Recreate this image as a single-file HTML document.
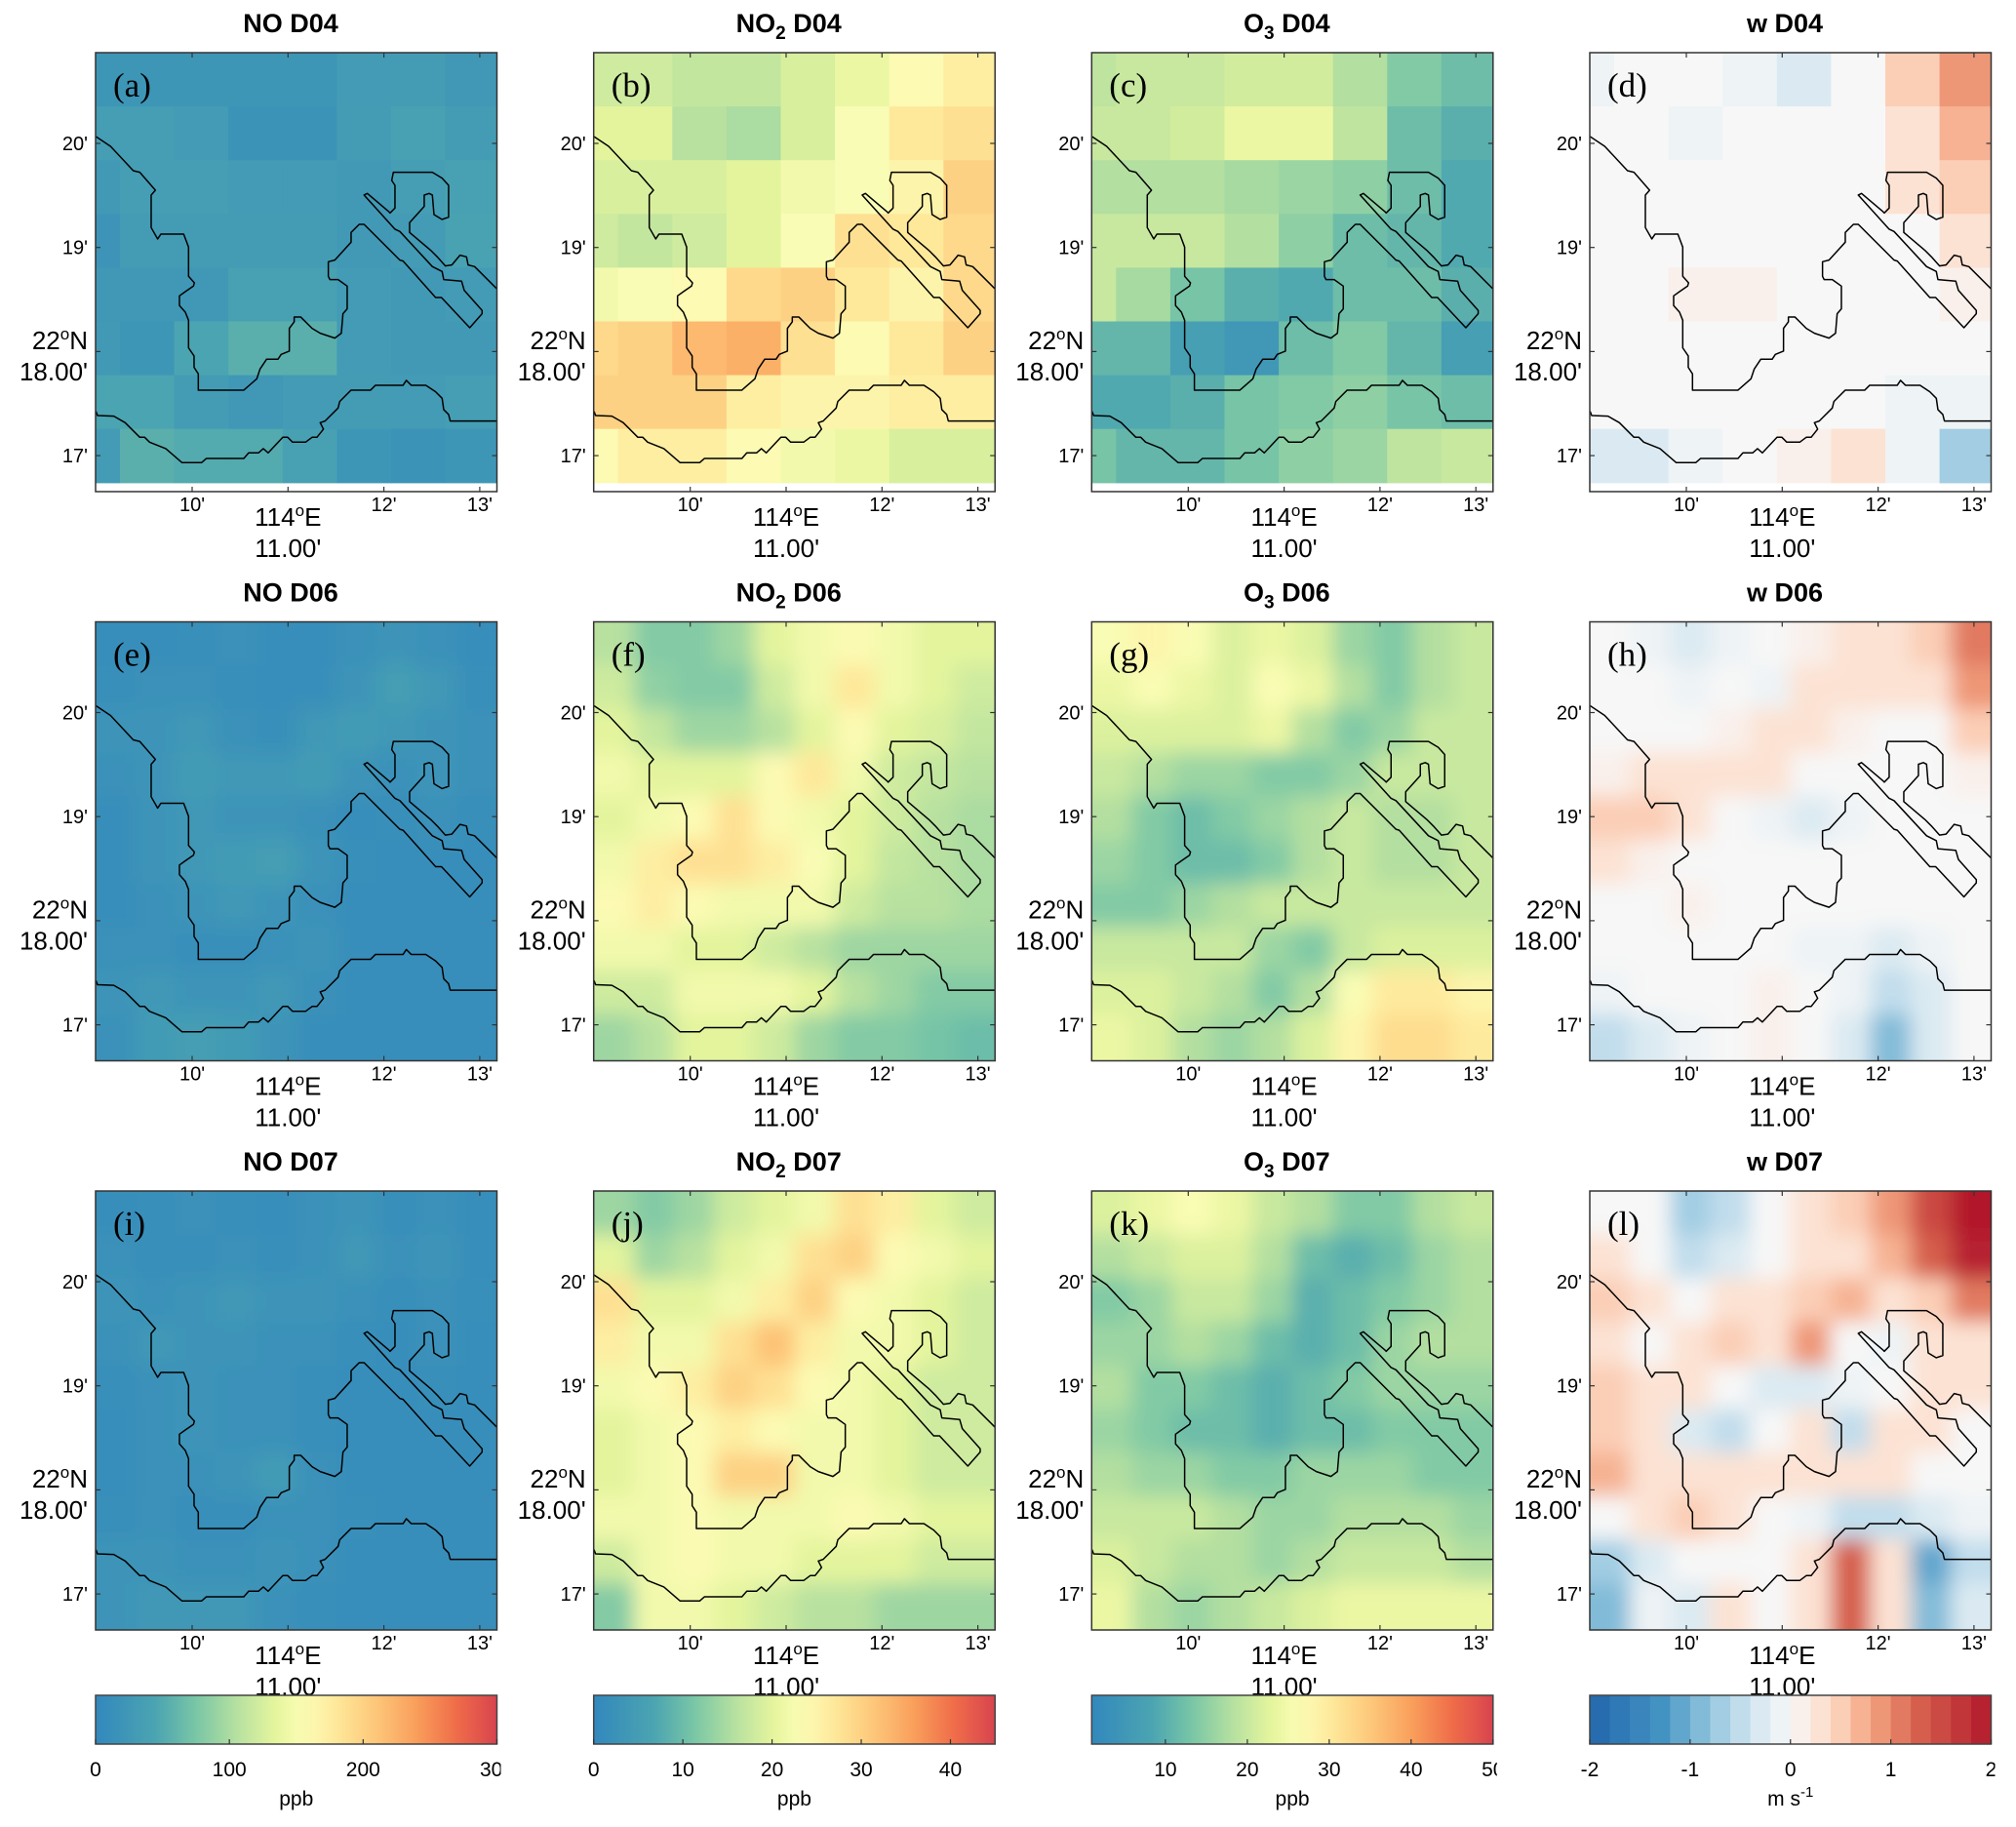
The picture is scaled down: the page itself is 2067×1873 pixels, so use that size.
<!DOCTYPE html>
<html><head><meta charset="utf-8"><style>
html,body{margin:0;padding:0;background:#fff;}
svg{display:block;font-family:"Liberation Sans",sans-serif;}
</style></head><body>
<svg id="fig" xmlns="http://www.w3.org/2000/svg" width="2067" height="1873" viewBox="0 0 2067 1873">
<defs>
<filter id="blur" x="0" y="0" width="2067" height="1873" filterUnits="userSpaceOnUse"><feGaussianBlur stdDeviation="10"/></filter>
</defs>
</svg>
<script>
// ---------- data ----------
const noD04=[[22,22,22,22,22,30,32,25],[35,35,30,18,18,32,40,32],[28,35,35,30,30,28,35,40],[20,32,32,32,32,28,30,42],[25,25,25,40,40,30,28,30],[28,22,45,55,55,30,28,28],[45,45,32,25,30,32,30,35],[30,55,50,50,40,22,18,22]];
const no2D04=[[18,18,17,17,19,21,24,26],[20,20,16,15,19,23,27,28],[19,19,19,20,22,23,25,30],[18,17,18,20,23,28,27,29],[22,23,24,29,30,27,25,29],[29,30,33,34,28,24,27,30],[30,30,30,26,25,25,26,26],[24,26,26,24,22,21,19,19]];
const o3D04=[[19,20,20,21,21,18,14,12],[20,20,21,24,24,19,12,10],[18,18,18,17,16,15,12,9],[20,20,20,18,15,12,11,9],[20,17,13,10,9,12,12,10],[11,11,7,5,12,14,11,7],[9,9,10,13,14,15,13,12],[13,11,11,13,15,16,19,20]];
const wD04=[[-0.1,-0.05,-0.05,-0.15,-0.25,-0.05,0.5,0.85],[0,-0.05,-0.15,-0.05,-0.05,0,0.3,0.6],[0,-0.05,0,0,0,0,0.3,0.4],[0,0,0.05,0.05,0,0,0.05,0.3],[0,0.05,0.1,0.1,0,0,0,0.1],[0.05,0,0,0,0,-0.05,-0.05,0.05],[0,-0.05,0,0,0.05,0,-0.2,-0.2],[-0.3,-0.3,-0.2,-0.05,0.1,0.25,-0.2,-0.7]];
const noD06=[[10,10,12,15,10,10,15,20,15,10],[12,15,15,12,10,10,20,35,25,12],[20,20,25,15,12,25,30,25,20,15],[15,20,30,25,25,30,20,15,20,15],[10,20,25,20,20,15,10,12,15,12],[10,20,25,30,35,20,12,10,10,10],[10,15,20,25,20,15,10,10,10,10],[15,15,12,12,15,20,10,10,10,10],[20,25,20,20,25,15,10,10,10,10],[15,30,35,30,20,10,10,10,10,10]];
const no2D06=[[16,12,12,14,20,22,24,22,20,20],[18,13,12,12,18,22,27,22,20,18],[20,17,14,14,16,20,24,20,19,17],[22,20,20,20,24,27,22,18,17,16],[20,22,24,28,24,22,20,18,16,15],[22,26,28,28,26,23,20,17,16,15],[24,26,24,22,22,22,18,16,16,15],[22,22,20,20,18,16,14,14,14,14],[18,18,22,22,22,20,16,14,12,12],[14,16,20,20,18,14,12,12,11,10]];
const o3D06=[[26,28,26,22,24,22,16,14,18,20],[24,26,24,22,26,24,18,14,18,20],[22,22,22,22,24,18,14,16,20,20],[20,18,16,16,14,14,16,20,20,20],[18,14,12,14,16,18,20,18,18,20],[16,14,12,12,14,18,20,18,18,20],[14,14,16,18,20,20,20,20,20,20],[20,20,20,20,16,14,20,22,22,22],[22,22,20,18,14,18,26,30,30,28],[24,22,18,16,18,22,28,32,32,30]];
const wD06=[[0,-0.1,-0.3,-0.2,0,0.1,0.2,0.3,0.5,1.0],[0,0,-0.1,0,-0.1,0.2,0.3,0.2,0.3,0.9],[0,0,0,0.1,0.2,0.2,0.1,0,0,0.5],[0.1,0.2,0.3,0.3,0.2,0,0,0,0,0.1],[0.4,0.4,0.2,0,-0.2,-0.3,-0.1,0,0,0],[0.3,0.1,0,0,0,0,0,0,0,0],[0,0,0.1,0,0,0,0,0,0,0],[0,0,0,0,0,-0.1,-0.2,-0.3,-0.2,0],[-0.2,0,0,0,0.1,0,-0.2,-0.6,-0.3,0],[-0.5,-0.3,-0.1,0,0.1,0,-0.3,-1.0,-0.4,0]];
const noD07=[[10,12,15,12,10,15,20,12,15,10],[15,12,12,15,12,15,25,15,20,10],[20,15,20,25,20,20,15,12,15,12],[15,25,20,20,15,15,12,10,15,10],[12,15,20,15,15,12,10,10,12,10],[10,15,20,15,15,12,10,10,10,10],[10,15,15,20,30,15,10,10,10,10],[12,15,12,12,15,15,12,10,10,10],[20,20,15,15,20,15,10,10,10,10],[20,25,25,25,15,12,10,10,10,10]];
const no2D07=[[14,12,14,18,20,22,28,26,20,18],[20,14,16,20,22,28,30,24,22,20],[28,20,20,22,26,30,24,22,20,18],[26,22,22,28,32,26,22,22,20,18],[22,24,26,30,28,24,22,20,18,18],[20,22,24,26,24,22,22,20,18,18],[20,22,24,30,30,22,22,20,18,18],[22,22,24,22,22,22,24,22,20,20],[18,22,24,22,22,20,20,20,18,18],[12,22,22,20,18,16,16,14,14,14]];
const o3D07=[[22,24,26,24,20,18,14,14,18,20],[18,20,22,22,18,12,10,12,16,18],[14,16,20,20,16,10,12,14,16,18],[16,16,18,16,12,10,12,16,18,18],[18,14,14,12,10,12,14,16,16,16],[16,14,12,12,10,12,12,14,14,14],[18,16,16,14,14,16,16,16,14,14],[20,20,20,18,16,16,18,18,18,16],[22,20,18,18,16,18,20,20,20,18],[24,18,16,18,20,22,24,24,24,24]];
const wD07=[[0,0,-0.8,-0.6,0,0.3,0.5,0.8,1.5,2.0],[0.2,0,-0.5,-0.3,0,0.2,0.3,0.6,1.2,1.8],[0.5,0.2,0,0.3,0.2,0.5,0.6,0.3,0.5,1.0],[0.3,0,0.2,0.5,0.3,0.8,0,-0.2,0.2,0.3],[0.4,0.3,0.2,0,-0.3,-0.4,-0.2,0,0.3,0.2],[0.5,0.2,-0.3,-0.5,0,0.2,-0.5,0.2,0.3,0],[0.6,0.3,0.2,0.2,0.3,0.2,0.3,0.2,0,0],[0,0.3,0.4,0.3,0,-0.2,-0.5,-0.6,-0.3,-0.2],[-0.8,-0.3,0,0,0,0.3,1.2,0.2,-1.2,-0.5],[-1.0,-0.2,-0.3,0.2,0,0.3,1.3,0.3,-1.0,-0.4]];
const xTickLabels=["10'","12'","13'"];
const xTickVals=[10,12,13];
const yTickLabels=["20'","19'","17'"];
const yTickVals=[20,19,17];
const noTicks=[0,100,200,300];
const no2Ticks=[0,10,20,30,40];
const o3Ticks=[10,20,30,40,50];
const wTicks=[-2,-1,0,1,2];
// coastline in reference-zoom units (map geometry)
const coastA=[[295,420],[340,450],[410,525],[430,530],[478,585],[465,600],[465,700],[485,735],[495,720],[565,720],[580,760],[580,850],[598,870],[595,880],[570,897],[552,910],[552,940],[570,960],[580,985],[580,1070],[597,1095],[597,1130],[610,1150],[610,1200],[750,1200],[790,1165],[800,1135],[820,1105],[855,1105],[865,1090],[890,1080],[890,1010],[905,990],[905,975],[925,975],[960,1010],[985,1025],[1030,1040],[1050,1025],[1055,965],[1068,950],[1068,880],[1040,860],[1015,860],[1010,850],[1010,805],[1030,800],[1080,745],[1080,715],[1105,690],[1120,690],[1230,800],[1240,803],[1340,915],[1358,915],[1445,1008],[1483,965],[1483,955],[1428,893],[1420,865],[1365,860],[1360,835],[1330,820],[1230,712],[1215,705],[1120,600],[1130,595],[1195,650],[1200,655],[1215,640],[1215,570],[1205,555],[1210,530],[1330,530],[1360,548],[1380,570],[1380,668],[1360,675],[1335,660],[1330,600],[1320,595],[1305,600],[1305,635],[1260,685],[1260,715],[1325,770],[1345,790],[1370,818],[1390,815],[1415,785],[1435,790],[1440,815],[1460,820],[1528,888]];
const coastB=[[295,1265],[300,1278],[350,1280],[385,1300],[430,1345],[445,1345],[460,1360],[510,1380],[560,1423],[620,1423],[635,1410],[750,1410],[765,1393],[795,1393],[810,1380],[825,1393],[870,1345],[885,1345],[900,1360],[940,1360],[960,1345],[975,1345],[995,1320],[985,1300],[1000,1295],[1040,1255],[1045,1235],[1080,1200],[1140,1200],[1155,1185],[1240,1185],[1250,1170],[1265,1185],[1310,1185],[1340,1205],[1360,1225],[1365,1260],[1380,1275],[1385,1295],[1528,1295]];

// ---------- colormaps ----------
const specStops=[[0,[50,136,189]],[0.15,[75,164,177]],[0.25,[121,198,166]],[0.35,[181,224,160]],[0.45,[230,245,157]],[0.52,[252,253,184]],[0.6,[254,232,154]],[0.7,[253,198,121]],[0.8,[249,158,91]],[0.9,[239,108,73]],[1,[216,67,78]]];
const rdbuStops=[[0,[33,102,172]],[0.18,[67,147,195]],[0.3,[146,197,222]],[0.4,[209,229,240]],[0.5,[247,247,247]],[0.6,[253,219,199]],[0.7,[244,165,130]],[0.82,[214,96,77]],[1,[178,24,43]]];
function interp(stops,t){t=Math.max(0,Math.min(1,t));for(let i=1;i<stops.length;i++){if(t<=stops[i][0]){const a=stops[i-1],b=stops[i];const f=(t-a[0])/(b[0]-a[0]);return 'rgb('+a[1].map((v,k)=>Math.round(v+(b[1][k]-v)*f)).join(',')+')';}}const l=stops[stops.length-1][1];return 'rgb('+l.join(',')+')';}
function cmapSpec(v,lo,hi){return interp(specStops,(v-lo)/(hi-lo));}
function cmapW(v){let t=(v+2)/4;t=(Math.floor(t*20)+0.5)/20;if(Math.abs(v)<0.1)t=0.5;return interp(rdbuStops,t);}

// ---------- layout ----------
const NS="http://www.w3.org/2000/svg";
const svg=document.getElementById('fig');
const defs=svg.querySelector('defs');
const colL=[98,608.7,1119.3,1630];
const rowT=[54,637.5,1221];
const PW=411.5,PH=450;
function xOf(L,lon){return L+99+(lon-10)*98.3;}
function yOf(T,lat){return T+93+(20-lat)*106.7;}
function el(tag,attrs,parent){const e=document.createElementNS(NS,tag);for(const k in attrs)e.setAttribute(k,attrs[k]);(parent||svg).appendChild(e);return e;}

const panels=[
 {r:0,c:0,title:['NO',null,' D04'],lab:'(a)',data:noD04,kind:'coarse',cm:v=>cmapSpec(v,0,300),name:'no-d04'},
 {r:0,c:1,title:['NO','2',' D04'],lab:'(b)',data:no2D04,kind:'coarse',cm:v=>cmapSpec(v,0,45),name:'no2-d04'},
 {r:0,c:2,title:['O','3',' D04'],lab:'(c)',data:o3D04,kind:'coarse',cm:v=>cmapSpec(v,1,50),name:'o3-d04'},
 {r:0,c:3,title:['w',null,' D04'],lab:'(d)',data:wD04,kind:'coarse',cm:cmapW,name:'w-d04'},
 {r:1,c:0,title:['NO',null,' D06'],lab:'(e)',data:noD06,kind:'fine',cm:v=>cmapSpec(v,0,300),name:'no-d06'},
 {r:1,c:1,title:['NO','2',' D06'],lab:'(f)',data:no2D06,kind:'fine',cm:v=>cmapSpec(v,0,45),name:'no2-d06'},
 {r:1,c:2,title:['O','3',' D06'],lab:'(g)',data:o3D06,kind:'fine',cm:v=>cmapSpec(v,1,50),name:'o3-d06'},
 {r:1,c:3,title:['w',null,' D06'],lab:'(h)',data:wD06,kind:'fine',cm:cmapW,name:'w-d06'},
 {r:2,c:0,title:['NO',null,' D07'],lab:'(i)',data:noD07,kind:'fine',cm:v=>cmapSpec(v,0,300),name:'no-d07'},
 {r:2,c:1,title:['NO','2',' D07'],lab:'(j)',data:no2D07,kind:'fine',cm:v=>cmapSpec(v,0,45),name:'no2-d07'},
 {r:2,c:2,title:['O','3',' D07'],lab:'(k)',data:o3D07,kind:'fine',cm:v=>cmapSpec(v,1,50),name:'o3-d07'},
 {r:2,c:3,title:['w',null,' D07'],lab:'(l)',data:wD07,kind:'fine',cm:cmapW,name:'w-d07'}
];

panels.forEach((p,pi)=>{
 const L=colL[p.c],T=rowT[p.r];
 const g=el('g',{});
 
 
 const cp=el('clipPath',{id:'cp'+pi},defs);
 el('rect',{x:L,y:T,width:PW,height:PH},cp);
 const hm=el('g',{'clip-path':'url(#cp'+pi+')'},g);
 
 
 if(p.kind==='coarse'){
  const cw=55.6,ch=55.1,off=-30.6;
  p.data.forEach((row,ri)=>row.forEach((v,ci)=>{
   const r=el('rect',{x:(L+off+ci*cw).toFixed(1),y:(T+ri*ch).toFixed(1),width:cw+0.6,height:ch+0.6,fill:p.cm(v)},hm);
   
   
  }));
 } else {
  const inner=el('g',{filter:'url(#blur)'},hm);
  const n=p.data.length,m=p.data[0].length,cw=PW/m,ch=(PH-3)/n,pad=40;
  p.data.forEach((row,ri)=>row.forEach((v,ci)=>{
   let x=L+ci*cw,y=T+ri*ch,w=cw+0.6,h=ch+0.6;
   if(ci===0){x-=pad;w+=pad;} if(ci===m-1){w+=pad;}
   if(ri===0){y-=pad;h+=pad;} if(ri===n-1){h+=pad;}
   const r=el('rect',{x:x.toFixed(1),y:y.toFixed(1),width:w.toFixed(1),height:h.toFixed(1),fill:p.cm(v)},inner);
   
   
  }));
 }
 // coastline
 const cgo=el('g',{'clip-path':'url(#cp'+pi+')'},g);
 
 
 const cg=el('g',{transform:'translate('+(L-98)+','+(T-54)+') scale(0.3333)'},cgo);
 [coastA,coastB].forEach(c=>{
  el('polyline',{points:c.map(q=>q[0]+','+q[1]).join(' '),fill:'none',stroke:'#000','stroke-width':1.5,'vector-effect':'non-scaling-stroke','stroke-linejoin':'round'},cg);
 });
 // frame
 const fr=el('rect',{x:L,y:T,width:PW,height:PH,fill:'none',stroke:'#333','stroke-width':1.5},g);
 
 
 // ticks
 [10,11,12,13].forEach(v=>{const x=xOf(L,v);el('line',{x1:x,x2:x,y1:T,y2:T+5,stroke:'#333','stroke-width':1.2},g);el('line',{x1:x,x2:x,y1:T+PH,y2:T+PH-5,stroke:'#333','stroke-width':1.2},g);});
 [20,19,18,17].forEach(v=>{const y=yOf(T,v);el('line',{x1:L,x2:L+5,y1:y,y2:y,stroke:'#333','stroke-width':1.2},g);el('line',{x1:L+PW,x2:L+PW-5,y1:y,y2:y,stroke:'#333','stroke-width':1.2},g);});
 xTickLabels.forEach((t,i)=>{const tx=el('text',{x:xOf(L,xTickVals[i]),y:T+PH+20,'font-size':20,'text-anchor':'middle'},g);tx.textContent=t;
  
  });
 yTickLabels.forEach((t,i)=>{const tx=el('text',{x:L-8,y:yOf(T,yTickVals[i])+7,'font-size':20,'text-anchor':'end'},g);tx.textContent=t;
  
  });
 // y axis center label
 const yl=el('text',{x:L-8,y:T+304,'font-size':26,'text-anchor':'end'},g);
 yl.innerHTML='22<tspan dy="-10" font-size="17">o</tspan><tspan dy="10">N</tspan>';
 
 
 const yl2=el('text',{x:L-8,y:T+336,'font-size':26,'text-anchor':'end'},g);
 yl2.textContent="18.00'";
 
 
 const xl=el('text',{x:xOf(L,11),y:T+PH+35,'font-size':26,'text-anchor':'middle'},g);
 xl.innerHTML='114<tspan dy="-10" font-size="17">o</tspan><tspan dy="10">E</tspan>';
 
 
 const xl2=el('text',{x:xOf(L,11),y:T+PH+67,'font-size':26,'text-anchor':'middle'},g);
 xl2.textContent="11.00'";
 
 
 // title
 const tt=el('text',{x:L+200,y:T-21,'font-size':27,'font-weight':'bold','text-anchor':'middle'},g);
 let h=p.title[0];
 if(p.title[1])h+='<tspan dy="7" font-size="19">'+p.title[1]+'</tspan><tspan dy="-7">'+p.title[2]+'</tspan>';else h+=p.title[2];
 tt.innerHTML=h;
 
 
 const lb=el('text',{x:L+18,y:T+45,'font-size':35,'font-family':'Liberation Serif, serif'},g);
 lb.textContent=p.lab;
 
 
});

// ---------- colorbars ----------
const cbs=[
 {c:0,lo:0,hi:300,ticks:noTicks,kind:'spec',unit:'ppb',name:'no'},
 {c:1,lo:0,hi:45,ticks:no2Ticks,kind:'spec',unit:'ppb',name:'no2'},
 {c:2,lo:1,hi:50,ticks:o3Ticks,kind:'spec',unit:'ppb',name:'o3'},
 {c:3,lo:-2,hi:2,ticks:wTicks,kind:'w',unit:'ms',name:'w'}
];
cbs.forEach((cb,i)=>{
 const L=colL[cb.c],T=1738,H=50;
 const g=el('g',{});
 
 
 const xv=v=>L+(v-cb.lo)/(cb.hi-cb.lo)*PW;
 if(cb.kind==='spec'){
  const lg=el('linearGradient',{id:'lg'+i,x1:0,x2:1,y1:0,y2:0},defs);
  for(let k=0;k<=20;k++){el('stop',{offset:k/20,'stop-color':interp(specStops,k/20)},lg);}
  el('rect',{x:L,y:T,width:PW,height:H,fill:'url(#lg'+i+')'},g);
 } else {
  for(let k=0;k<20;k++){el('rect',{x:xv(cb.lo+k*0.2),y:T,width:PW/20+0.5,height:H,fill:interp(rdbuStops,(k+0.5)/20)},g);}
 }
 el('rect',{x:L,y:T,width:PW,height:H,fill:'none',stroke:'#444','stroke-width':1.5},g);
 const cp=el('clipPath',{id:'cbc'+i},defs);
 el('rect',{x:L-40,y:T+50,width:PW+44,height:60},cp);
 const tg=el('g',{'clip-path':'url(#cbc'+i+')'},g);
 cb.ticks.forEach(v=>{
  const x=xv(v);
  el('line',{x1:x,x2:x,y1:T+H,y2:T+H-5,stroke:'#333','stroke-width':1.2},g);
  const t=el('text',{x:x,y:1821,'font-size':21,'text-anchor':'middle'},tg);
  t.textContent=String(v);
  
  
 });
 const u=el('text',{x:L+PW/2,y:1851,'font-size':21,'text-anchor':'middle'},g);
 if(cb.unit==='ms')u.innerHTML='m s<tspan dy="-9" font-size="15">-1</tspan>';else u.textContent=cb.unit;
 
 
});
</script>
</body></html>
